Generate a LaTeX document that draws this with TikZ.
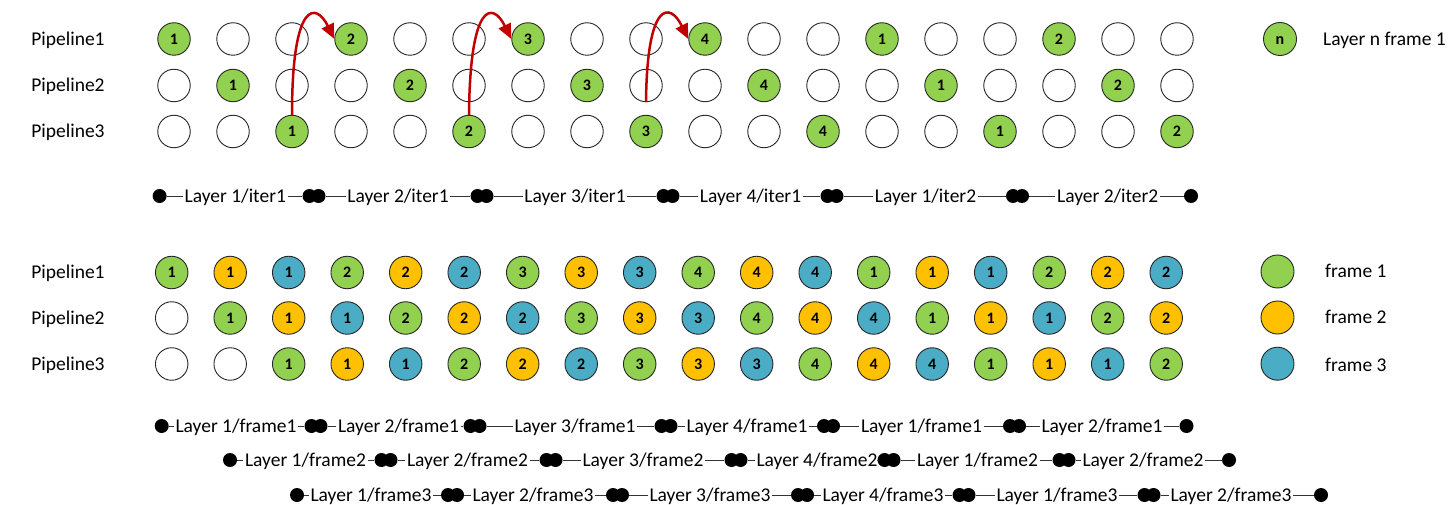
\documentclass[tikz,border=0pt]{standalone}
\usepackage{fontspec}
\setmainfont{Carlito}
\usetikzlibrary{arrows.meta}

\definecolor{fgreen}{HTML}{92D050}
\definecolor{forange}{HTML}{FFC000}
\definecolor{fblue}{HTML}{4BACC6}
\definecolor{darrow}{HTML}{C00000}

% one segment of a timeline: start dot, label, end dot
% #1 name, #2 y, #3 x of start dot, #4 x of label, #5 x of end dot, #6 label
\newcommand\tlseg[6]{%
  \node[tdot] (#1s) at (#3,#2) {};
  \node[tlab] (#1t) at (#4,#2) {#6};
  \node[tdot] (#1e) at (#5,#2) {};
  \draw[tline] (#1s) -- (#1t) -- (#1e);
}

\begin{document}
\begin{tikzpicture}[x=1pt,y=-1pt,
  slot/.style={circle,draw=black!85,line width=0.9pt,minimum size=32.5pt,inner sep=0pt,
    font=\fontsize{16}{16}\selectfont\bfseries,text height=10.2pt,text depth=0pt},
  keyslot/.style={slot,minimum size=33pt},
  rowlab/.style={font=\fontsize{19.5}{23}\selectfont,text height=12.5pt,text depth=0pt,inner sep=0pt},
  tlab/.style={font=\fontsize{19.5}{23}\selectfont,text height=12.5pt,text depth=0pt,inner sep=1.5pt},
  tdot/.style={circle,fill=black,minimum size=14pt,inner sep=0pt},
  tline/.style={draw=black!80,line width=0.8pt},
  hop/.style={draw=darrow,line width=2.5pt,-{Triangle[length=15pt,width=13pt]}}]

\fill[white] (0,0) rectangle (1448,505);
\useasboundingbox (0,0) rectangle (1448,505);

% ---------- upper schedule: one frame through three pipelines ----------
\foreach \r/\y in {1/39,2/85.5,3/131.5}{
  \node[rowlab] (pl-\r) at (68,\y) {Pipeline\r};
  \foreach \c in {0,...,17}{
    \pgfmathtruncatemacro\k{\c-\r+1}
    \pgfmathtruncatemacro\isg{(\k>=0)&&(mod(\k,3)==0)}
    \ifnum\isg=1
      \pgfmathtruncatemacro\num{mod(int(\k/3),4)+1}
      \node[slot,fill=fgreen] (t-\r-\c) at ({174+59*\c},\y) {\num};
    \else
      \node[slot] (t-\r-\c) at ({174+59*\c},\y) {};
    \fi
  }
}

% hand-over of each layer's output back to pipeline 1
\draw[hop] (t-3-2.north) .. controls (292,0) and (316,2) .. (t-1-3.west);
\draw[hop] (t-3-5.north) .. controls (470,0) and (493,2) .. (t-1-6.west);
\draw[hop] (t-2-8.south) .. controls (647,0) and (670,2) .. (t-1-9.west);

% key
\node[keyslot,fill=fgreen] (key-n) at (1280,39) {n};
\node[rowlab,anchor=west] (key-nt) at (1323,39) {Layer n frame 1};

% timeline
\tlseg{a1}{196}{159.6}{235.3}{309.5}{Layer 1/iter1}
\tlseg{a2}{196}{318.5}{398}{477.5}{Layer 2/iter1}
\tlseg{a3}{196}{486.5}{575}{663.5}{Layer 3/iter1}
\tlseg{a4}{196}{672.5}{750.5}{827.5}{Layer 4/iter1}
\tlseg{a5}{196}{836.5}{925.5}{1013}{Layer 1/iter2}
\tlseg{a6}{196}{1022}{1107.7}{1191}{Layer 2/iter2}

% ---------- lower schedule: three frames interleaved ----------
\foreach \r/\y in {1/272.5,2/318,3/364}{
  \node[rowlab] (ql-\r) at (68,\y) {Pipeline\r};
  \foreach \c in {0,...,17}{
    \pgfmathtruncatemacro\k{\c-\r+1}
    \ifnum\k<0
      \node[slot] (b-\r-\c) at ({171.7+58.5*\c},\y) {};
    \else
      \pgfmathtruncatemacro\f{mod(\k,3)}
      \pgfmathtruncatemacro\num{mod(int(\k/3),4)+1}
      \ifcase\f\def\fc{fgreen}\or\def\fc{forange}\else\def\fc{fblue}\fi
      \node[slot,fill=\fc] (b-\r-\c) at ({171.7+58.5*\c},\y) {\num};
    \fi
  }
}

% key
\node[keyslot,fill=fgreen]  (key-1) at (1277.5,271.5) {};
\node[keyslot,fill=forange] (key-2) at (1277.5,317.5) {};
\node[keyslot,fill=fblue]   (key-3) at (1277.5,363.7) {};
\node[rowlab,anchor=west] (key-1t) at (1325,271.5) {frame 1};
\node[rowlab,anchor=west] (key-2t) at (1325,317.5) {frame 2};
\node[rowlab,anchor=west] (key-3t) at (1325,365) {frame 3};

% timelines, one per frame
\tlseg{b1}{426}{161.7}{236}{311.5}{Layer 1/frame1}
\tlseg{b2}{426}{320.5}{398.5}{470.5}{Layer 2/frame1}
\tlseg{b3}{426}{479.5}{575}{661.5}{Layer 3/frame1}
\tlseg{b4}{426}{670.5}{747}{824}{Layer 4/frame1}
\tlseg{b5}{426}{833}{921.5}{1010}{Layer 1/frame1}
\tlseg{b6}{426}{1019}{1102}{1186.5}{Layer 2/frame1}

\tlseg{c1}{460}{230}{305.5}{381.5}{Layer 1/frame2}
\tlseg{c2}{460}{390.5}{467.5}{546.5}{Layer 2/frame2}
\tlseg{c3}{460}{555.5}{643}{731.5}{Layer 3/frame2}
\tlseg{c4}{460}{740.5}{817}{884.5}{Layer 4/frame2}
\tlseg{c5}{460}{893.5}{977.5}{1059.5}{Layer 1/frame2}
\tlseg{c6}{460}{1068.5}{1143}{1229}{Layer 2/frame2}

\tlseg{d1}{495}{297}{371}{448}{Layer 1/frame3}
\tlseg{d2}{495}{457}{533}{613}{Layer 2/frame3}
\tlseg{d3}{495}{622}{710}{798}{Layer 3/frame3}
\tlseg{d4}{495}{807}{883}{959.5}{Layer 4/frame3}
\tlseg{d5}{495}{968.5}{1057}{1144.5}{Layer 1/frame3}
\tlseg{d6}{495}{1153.5}{1231}{1321}{Layer 2/frame3}

\end{tikzpicture}
\end{document}
